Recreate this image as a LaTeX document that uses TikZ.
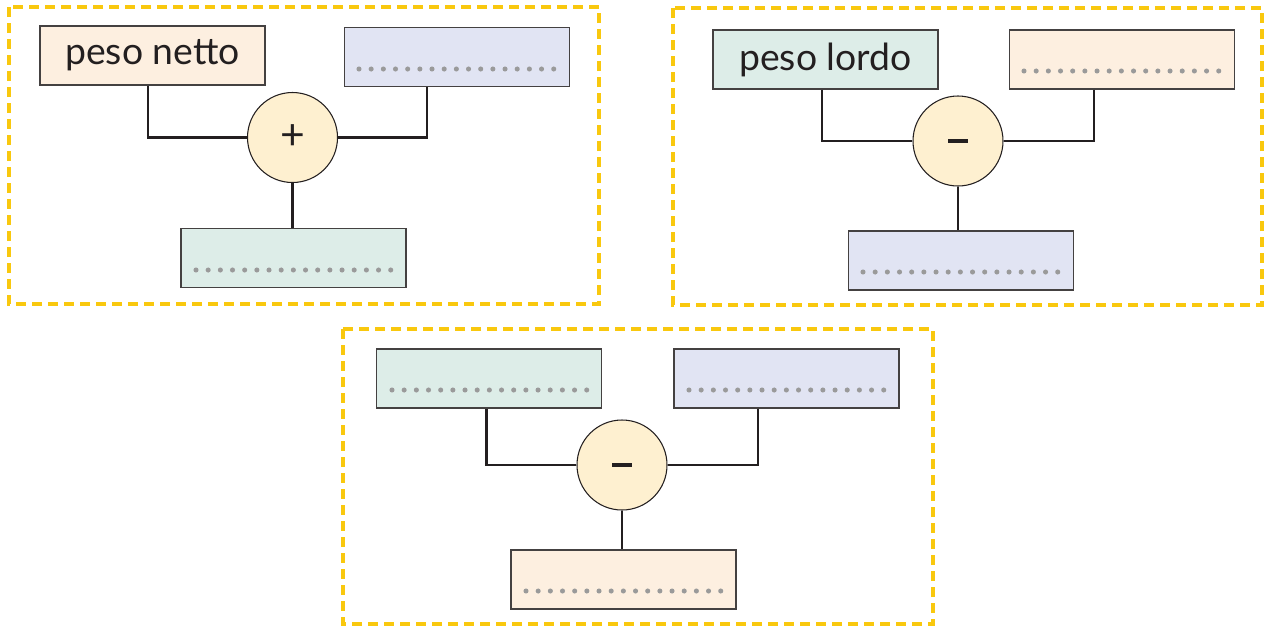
\documentclass[tikz,border=0pt]{standalone}
\usepackage{fontspec}
\setmainfont{Lato}
\definecolor{peach}{HTML}{FDEFE0}
\definecolor{lav}{HTML}{E1E4F3}
\definecolor{mint}{HTML}{DDEDE8}
\definecolor{opfill}{HTML}{FEF0D0}
\definecolor{gold}{HTML}{F9C80E}
\definecolor{ink}{HTML}{231F20}
\definecolor{dotgray}{HTML}{9A9A9A}
\tikzset{
  frame/.style={draw=gold, line width=2.4pt, dash pattern=on 7.5pt off 4.5pt},
  box/.style={draw=ink!85, line width=0.8pt, minimum width=168.75pt, minimum height=44.25pt, inner sep=0pt, font=\fontsize{28}{30}\selectfont, text=ink},
  op/.style={circle, draw=ink, line width=0.8pt, fill=opfill, minimum size=67.5pt, inner sep=0pt, font=\fontsize{32}{34}\selectfont, text=ink},
  conn/.style={draw=ink, line width=1.9pt}
}
\newcommand{\dotrow}[2]{\foreach \k in {0,...,16} {\fill[dotgray] (#1+\k*12.17,#2) circle (1.9pt);}}
\newcommand{\minussign}{\rule[0pt]{15pt}{2.6pt}}
\begin{document}
\begin{tikzpicture}[x=0.75pt,y=-0.75pt]
\useasboundingbox (0,0) rectangle (1266,626);
% frames
\draw[frame] (9,7) rectangle (599,304);
\draw[frame] (673,8) rectangle (1262,305);
\draw[frame] (343,329) rectangle (933,624);
% panel 1
\node[box, fill=peach] (a1) at (152.5,55.5) {peso netto};
\node[box, fill=lav] (b1) at (457,57) {};
\node[op] (c1) at (292.5,137.5) {+};
\node[box, fill=mint] (d1) at (293.5,258) {};
\dotrow{359}{69}
\dotrow{196}{270}
\draw[conn] (148,0 |- a1.south) |- (c1.west);
\draw[conn] (427,0 |- b1.south) |- (c1.east);
\draw[conn] (c1.south) -- (c1.south |- d1.north);
% panel 2
\node[box, fill=mint] (a2) at (825.5,59.5) {peso lordo};
\node[box, fill=peach] (b2) at (1122,59.5) {};
\node[op] (c2) at (958,141) {\minussign};
\node[box, fill=lav] (d2) at (961,260.5) {};
\dotrow{1024}{71}
\dotrow{863}{272}
\draw[conn] (822,0 |- a2.south) |- (c2.west);
\draw[conn] (1094,0 |- b2.south) |- (c2.east);
\draw[conn] (c2.south) -- (c2.south |- d2.north);
% panel 3
\node[box, fill=mint] (a3) at (489,378.5) {};
\node[box, fill=lav] (b3) at (786.5,378.5) {};
\node[op] (c3) at (622,465) {\minussign};
\node[box, fill=peach] (d3) at (623.5,579.5) {};
\dotrow{392}{390}
\dotrow{689}{390}
\dotrow{526}{591}
\draw[conn] (486.5,0 |- a3.south) |- (c3.west);
\draw[conn] (758,0 |- b3.south) |- (c3.east);
\draw[conn] (c3.south) -- (c3.south |- d3.north);
\end{tikzpicture}
\end{document}
